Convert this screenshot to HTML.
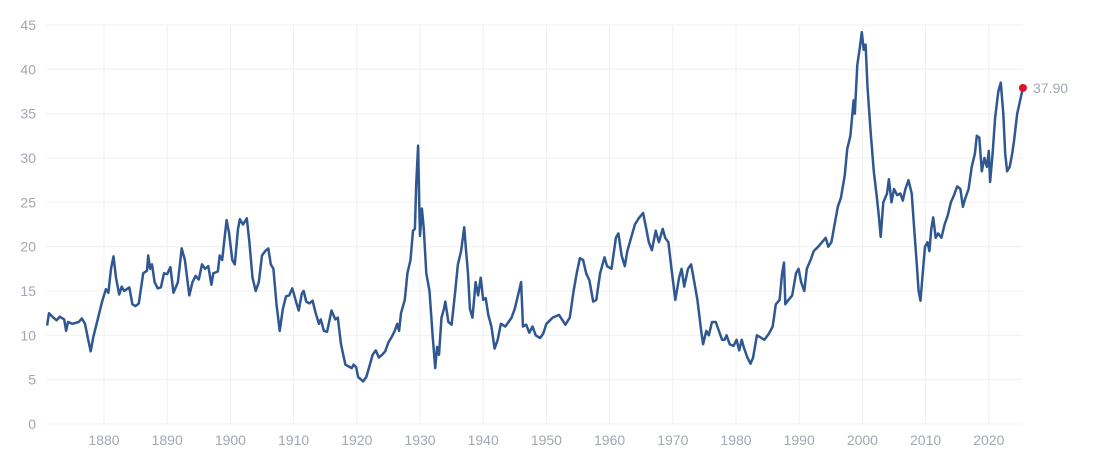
<!DOCTYPE html>
<html><head><meta charset="utf-8"><style>
html,body{margin:0;padding:0;background:#fff;}
svg{display:block;font-family:"Liberation Sans",sans-serif;}
</style></head><body>
<svg id="c" width="1106" height="470" viewBox="0 0 1106 470"></svg>
<script>
var d=[1871.0,11.1,1871.3,12.5,1872,12.0,1872.5,11.7,1873,12.1,1873.7,11.8,1874,10.5,1874.3,11.5,1875,11.3,1876,11.5,1876.5,11.9,1877,11.3,1877.5,9.5,1877.9,8.2,1878.3,9.8,1879,11.8,1879.7,13.8,1880.3,15.2,1880.7,14.8,1881.1,17.5,1881.5,18.9,1881.9,16.5,1882.4,14.6,1882.8,15.5,1883.2,15,1884,15.4,1884.5,13.5,1885,13.3,1885.5,13.6,1886.2,17,1886.8,17.3,1887.0,19.0,1887.3,17.5,1887.6,18,1888,16,1888.5,15.3,1889,15.4,1889.5,17,1890,16.9,1890.5,17.7,1891,14.8,1891.7,16,1892.3,19.8,1892.8,18.5,1893.5,14.5,1894,16,1894.5,16.7,1895,16.3,1895.5,18.0,1896,17.5,1896.5,17.8,1897,15.7,1897.3,17,1898,17.2,1898.3,19,1898.7,18.5,1899,20.5,1899.4,23.0,1899.8,21.5,1900.3,18.5,1900.7,18.0,1901.2,22.0,1901.5,23.1,1902,22.5,1902.6,23.2,1903,20.5,1903.5,16.5,1904,15.0,1904.5,16.0,1905,19.0,1905.5,19.5,1906,19.8,1906.4,18.0,1906.8,17.5,1907.3,13.5,1907.8,10.5,1908.3,13,1908.8,14.4,1909.3,14.5,1909.8,15.3,1910.5,13.5,1910.8,12.8,1911.3,14.7,1911.6,15.0,1912,13.8,1912.5,13.6,1913,13.9,1913.5,12.5,1914,11.3,1914.3,11.8,1914.8,10.5,1915.3,10.4,1916,12.8,1916.6,11.8,1917,12.0,1917.5,9.0,1917.8,8.0,1918.2,6.7,1918.7,6.5,1919.2,6.3,1919.5,6.7,1919.9,6.4,1920.2,5.3,1920.7,5.0,1921.0,4.8,1921.5,5.3,1922,6.5,1922.5,7.8,1923,8.3,1923.5,7.5,1924,7.8,1924.5,8.2,1925,9.2,1925.5,9.8,1926,10.5,1926.4,11.3,1926.7,10.5,1927,12.5,1927.6,14.0,1928,17.0,1928.5,18.5,1928.9,21.8,1929.2,22,1929.4,27,1929.7,31.4,1929.9,24,1930.0,21.2,1930.3,24.3,1930.6,22,1931,17,1931.5,15.0,1932,10.0,1932.4,6.3,1932.7,8.7,1933,7.8,1933.4,12.0,1933.8,13.0,1934,13.8,1934.5,11.5,1935,11.2,1935.5,14.5,1936,18.0,1936.5,19.5,1937.0,22.2,1937.3,19.5,1937.6,17,1937.9,13.0,1938.3,12.0,1938.8,16.0,1939.2,14.5,1939.6,16.5,1940.0,14.0,1940.4,14.2,1940.8,12.3,1941.3,11.0,1941.8,8.5,1942.3,9.5,1942.8,11.3,1943.5,11.0,1944,11.5,1944.5,12.0,1945,13.0,1945.5,14.5,1946.0,16.0,1946.3,11.0,1946.8,11.2,1947.3,10.3,1947.8,11.0,1948.3,10.0,1949,9.7,1949.5,10.2,1950,11.3,1951,12.0,1952,12.3,1953,11.2,1953.7,12.0,1954.3,15.0,1954.8,17.0,1955.3,18.7,1955.8,18.5,1956.3,17.0,1956.8,16.2,1957.4,13.8,1957.9,14.0,1958.5,17.0,1959.2,18.8,1959.6,17.8,1960.3,17.5,1961.0,21.0,1961.4,21.5,1961.9,19,1962.4,17.8,1962.8,19.5,1963.4,21.0,1964,22.5,1964.6,23.2,1965.3,23.8,1965.8,22.0,1966.2,20.5,1966.7,19.6,1967.3,21.8,1967.8,20.5,1968.4,22.0,1968.8,21.0,1969.3,20.5,1969.8,17.5,1970.4,14.0,1971,16.5,1971.4,17.5,1971.8,15.5,1972.4,17.5,1972.9,18.0,1973.4,16.0,1973.9,14.0,1974.5,10.5,1974.8,9.0,1975.3,10.5,1975.7,10.0,1976.2,11.5,1976.8,11.5,1977.3,10.5,1977.8,9.5,1978.2,9.5,1978.5,10.0,1979,9.0,1979.6,8.8,1980.1,9.5,1980.5,8.3,1980.9,9.5,1981.3,8.5,1981.8,7.5,1982.3,6.8,1982.7,7.5,1983.3,10.0,1983.8,9.8,1984.5,9.5,1985.2,10.2,1985.8,11.0,1986.3,13.5,1986.9,14.0,1987.3,17.0,1987.6,18.2,1987.8,13.5,1988.3,14.0,1988.9,14.5,1989.5,17.0,1989.9,17.5,1990.3,16.0,1990.8,15.0,1991.2,17.5,1991.8,18.5,1992.3,19.5,1993,20.0,1993.6,20.5,1994.2,21.0,1994.6,20.0,1995.1,20.5,1995.6,22.5,1996.1,24.5,1996.6,25.5,1997.2,28.0,1997.6,31.0,1998.1,32.5,1998.6,36.5,1998.8,35.0,1999.2,40.5,1999.6,42.5,1999.9,44.2,2000.2,42.2,2000.5,42.8,2000.8,38.0,2001.3,33.0,2001.8,28.5,2002.3,25.5,2002.6,23.5,2002.9,21.1,2003.3,25.0,2003.9,26.0,2004.2,27.6,2004.6,25.0,2005.0,26.5,2005.5,25.8,2006,26.0,2006.4,25.2,2006.8,26.5,2007.3,27.5,2007.8,26.0,2008.2,22.0,2008.6,18.0,2008.9,15.0,2009.2,13.9,2009.6,17.5,2009.9,20.0,2010.3,20.5,2010.6,19.5,2010.9,22.0,2011.2,23.3,2011.6,21.0,2012,21.5,2012.5,21.0,2013,22.5,2013.5,23.5,2014,25.0,2014.5,25.8,2015,26.8,2015.5,26.5,2015.9,24.5,2016.3,25.5,2016.8,26.5,2017.3,29.0,2017.8,30.5,2018.1,32.5,2018.5,32.3,2018.9,28.5,2019.3,30.0,2019.7,29.0,2020.0,30.8,2020.2,27.3,2020.6,30.5,2021.0,34.5,2021.5,37.5,2021.9,38.5,2022.3,35.0,2022.6,30.5,2022.9,28.5,2023.3,29.0,2023.7,30.5,2024.0,32.0,2024.5,35.0,2025.4,37.9];
function X(y){return 104+(y-1880)*6.32;}
function Y(v){return 424-v*8.867;}
var s='';
for(var v=0;v<=45;v+=5){var yy=Y(v).toFixed(1);
s+='<line x1="46" x2="1023" y1="'+yy+'" y2="'+yy+'" stroke="#f0f0f2" stroke-width="1"/>';
s+='<text x="36" y="'+(+yy+5)+'" text-anchor="end" font-size="14" fill="#a3a7b3">'+v+'</text>';}
for(var yr=1880;yr<=2020;yr+=10){var xx=X(yr).toFixed(1);
s+='<line x1="'+xx+'" x2="'+xx+'" y1="'+Y(45)+'" y2="424" stroke="#f0f0f2" stroke-width="1"/>';
s+='<text x="'+xx+'" y="445" text-anchor="middle" font-size="14" fill="#a3a7b3">'+yr+'</text>';}
var p='';
for(var i=0;i<d.length;i+=2){p+=(i?'L':'M')+X(d[i]).toFixed(1)+' '+Y(d[i+1]).toFixed(1);}
s+='<path d="'+p+'" fill="none" stroke="#2f5791" stroke-width="2.5" stroke-linejoin="round"/>';
s+='<circle cx="'+X(2025.4)+'" cy="'+Y(37.9)+'" r="4" fill="#e0102c"/>';
s+='<text x="1033" y="93" font-size="14" fill="#a3a7b3">37.90</text>';
document.getElementById('c').innerHTML=s;
</script>
</body></html>
